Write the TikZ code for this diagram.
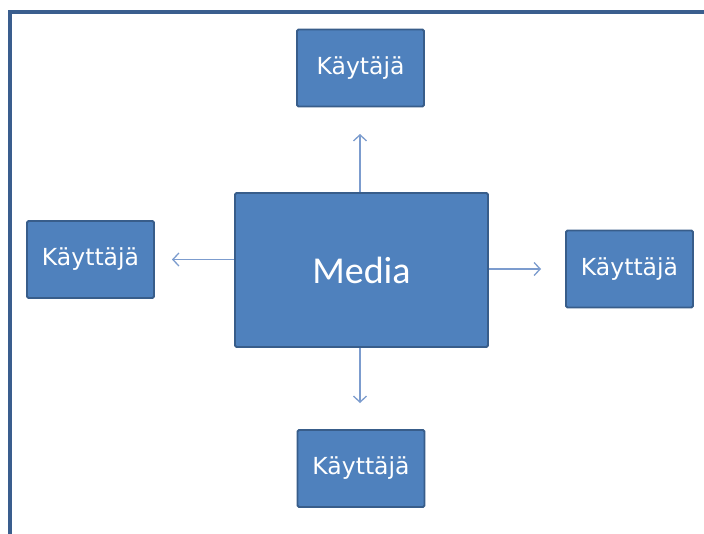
\documentclass[tikz,border=0pt]{standalone}
\usepackage{fontspec}
\setmainfont{DejaVu Sans}
\newfontfamily\mediafont{Carlito}
\usetikzlibrary{arrows.meta}
\definecolor{boxfill}{HTML}{4F81BD}
\definecolor{boxedge}{HTML}{385D8A}
\definecolor{framecol}{HTML}{3A5E8E}
\definecolor{arrowcol}{HTML}{7C9CCE}
\tikzset{
  userbox/.style={draw=boxedge, line width=1.8pt, fill=boxfill, rounded corners=1.5pt,
    minimum width=127pt, minimum height=77pt, inner sep=0pt,
    text=white, font=\fontsize{23.5}{27}\selectfont},
  mediabox/.style={userbox, minimum width=253pt, minimum height=154pt,
    font=\mediafont\fontsize{38}{43}\selectfont},
  flow/.style={draw=arrowcol, line width=1.3pt,
    -{Straight Barb[length=6pt, width=13pt, line width=1.3pt]}}
}
\begin{document}
\begin{tikzpicture}[x=1pt, y=-1pt]
\useasboundingbox (0,0) rectangle (704,533);
\fill[white] (0,0) rectangle (704,533);
% outer frame, open at the bottom and on the right
\draw[framecol, line width=3.6pt] (9.8,540) -- (9.8,12) -- (710,12);

\node[mediabox] (media) at (361.5,270) {Media};
\node[userbox] (top) at (360.5,68) {Käytäjä};
\node[userbox] (left) at (90.5,259.5) {Käyttäjä};
\node[userbox] (right) at (629.5,269) {Käyttäjä};
\node[userbox] (bottom) at (361,468.5) {Käyttäjä};

% free arrow ends, short of each outer box
\coordinate (topend) at (360,134);
\coordinate (leftend) at (172,259.5);
\coordinate (rightend) at (541,269);
\coordinate (bottomend) at (360,403);

\draw[flow] (topend |- media.north) -- (topend);
\draw[flow] (media.west |- leftend) -- (leftend);
\draw[flow] (media.east |- rightend) -- (rightend);
\draw[flow] (bottomend |- media.south) -- (bottomend);
\end{tikzpicture}
\end{document}
